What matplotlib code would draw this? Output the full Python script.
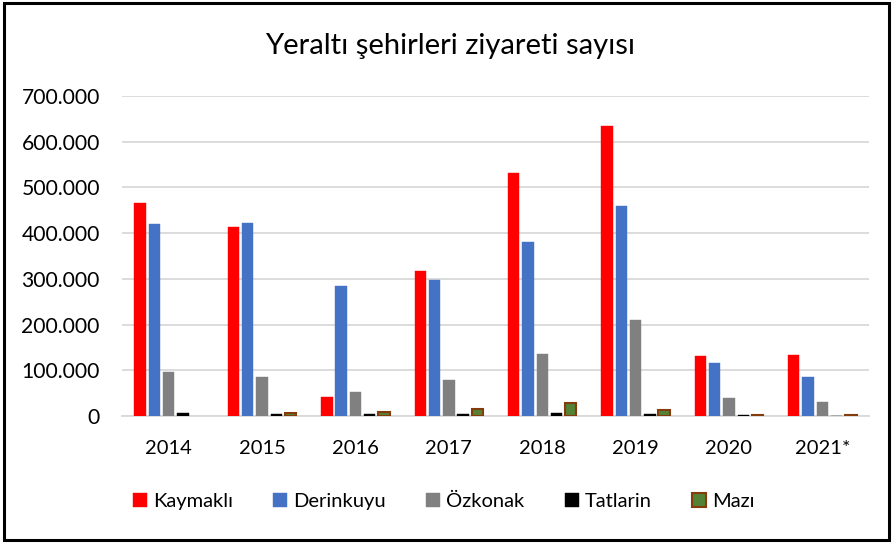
import matplotlib.pyplot as plt
import numpy as np
from matplotlib.ticker import FuncFormatter
from matplotlib.patches import Rectangle

plt.rcParams['font.family'] = ['Lato', 'DejaVu Sans']

years = ['2014', '2015', '2016', '2017', '2018', '2019', '2020', '2021*']
kaymakli = [466000, 413000, 42000, 317000, 532000, 634000, 131000, 133000]
derinkuyu = [420000, 422000, 285000, 298000, 381000, 460000, 115000, 85000]
ozkonak = [96000, 86000, 52000, 78000, 136000, 211000, 39000, 30000]
tatlarin = [6500, 4500, 5000, 5000, 6500, 4500, 3000, 800]
mazi = [np.nan, 6500, 9000, 16000, 29000, 12500, 3000, 2500]

series = ['Kaymaklı', 'Derinkuyu', 'Özkonak', 'Tatlarin', 'Mazı']
values = [kaymakli, derinkuyu, ozkonak, tatlarin, mazi]
colors = ['#FF0000', '#4472C4', '#808080', '#000000', '#548235']
edges = ['#FF0000', '#4472C4', '#808080', '#000000', '#843C0C']

fig = plt.figure(figsize=(8.95, 5.43), dpi=100)
ax = fig.add_axes([0.1363, 0.2339, 0.8347, 0.5893])

x = np.arange(len(years))
step = 0.153
w = 0.122
for i, (name, vals) in enumerate(zip(series, values)):
    lw = 1.5 if name == 'Mazı' else 0.3
    ax.bar(x + (i - 2) * step, vals, w, color=colors[i], edgecolor=edges[i],
           linewidth=lw, label=name, zorder=3)

ax.set_xlim(-0.5, len(years) - 0.5)
ax.set_ylim(0, 700000)
ax.set_yticks(np.arange(0, 700001, 100000))
ax.yaxis.set_major_formatter(FuncFormatter(lambda v, p: f'{int(v):,}'.replace(',', '.')))
ax.set_xticks(x)
ax.set_xticklabels(years)
ax.tick_params(length=0, labelsize=14.5, colors='#000000')
ax.tick_params(axis='y', labelsize=15.2, pad=16)
ax.tick_params(axis='x', pad=17)
ax.grid(axis='y', color='#D9D9D9', linewidth=1.3, zorder=0)
for s in ['top', 'right', 'left']:
    ax.spines[s].set_visible(False)
ax.spines['bottom'].set_color('#D9D9D9')
ax.spines['bottom'].set_linewidth(1.3)

fig.text(0.503, 0.916, 'Yeraltı şehirleri ziyareti sayısı', ha='center', va='center', fontsize=21)

fig.legend(loc='center', bbox_to_anchor=(0.496, 0.077), ncol=5, frameon=False,
           fontsize=14.5, handlelength=0.7, handleheight=0.7, handletextpad=0.3,
           columnspacing=2.0)

fig.patches.append(Rectangle((0.0045, 0.006), 0.989, 0.988, transform=fig.transFigure,
                             fill=False, edgecolor='black', linewidth=2.2))

fig.savefig('out.png', dpi=100)
